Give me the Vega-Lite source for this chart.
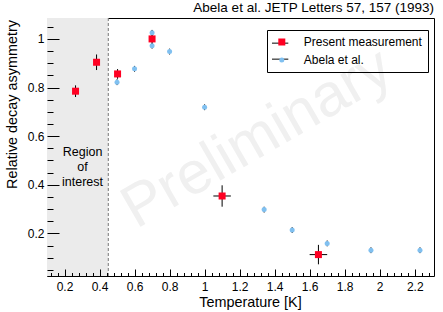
{
  "$schema": "https://vega.github.io/schema/vega-lite/v6.json",
  "width": 387,
  "height": 258,
  "autosize": "none",
  "padding": {"left": 47, "top": 18, "right": 9, "bottom": 36},
  "background": "white",
  "title": {"text": "Abela et al. JETP Letters 57, 157 (1993)", "anchor": "end", "frame": "group", "fontSize": 13.5, "fontWeight": "normal", "font": "Liberation Sans", "color": "black", "offset": 3},
  "config": {"view": {"stroke": "black", "strokeWidth": 1}, "font": "Liberation Sans"},
  "data": {"values": [
    {"series": "Abela et al.", "t": 0.5, "a": 0.822, "alo": 0.810, "ahi": 0.834},
    {"series": "Abela et al.", "t": 0.6, "a": 0.877, "alo": 0.865, "ahi": 0.889},
    {"series": "Abela et al.", "t": 0.7, "a": 1.025, "alo": 1.013, "ahi": 1.037},
    {"series": "Abela et al.", "t": 0.7, "a": 0.972, "alo": 0.960, "ahi": 0.984},
    {"series": "Abela et al.", "t": 0.8, "a": 0.948, "alo": 0.936, "ahi": 0.960},
    {"series": "Abela et al.", "t": 1.0, "a": 0.719, "alo": 0.707, "ahi": 0.731},
    {"series": "Abela et al.", "t": 1.34, "a": 0.298, "alo": 0.286, "ahi": 0.310},
    {"series": "Abela et al.", "t": 1.5, "a": 0.214, "alo": 0.202, "ahi": 0.226},
    {"series": "Abela et al.", "t": 1.7, "a": 0.159, "alo": 0.147, "ahi": 0.171},
    {"series": "Abela et al.", "t": 1.95, "a": 0.131, "alo": 0.119, "ahi": 0.143},
    {"series": "Abela et al.", "t": 2.23, "a": 0.131, "alo": 0.119, "ahi": 0.143},
    {"series": "Present measurement", "t": 0.263, "a": 0.785, "alo": 0.761, "ahi": 0.809},
    {"series": "Present measurement", "t": 0.383, "a": 0.904, "alo": 0.872, "ahi": 0.936},
    {"series": "Present measurement", "t": 0.503, "a": 0.856, "alo": 0.836, "ahi": 0.876},
    {"series": "Present measurement", "t": 0.7, "a": 1.0, "alo": 0.965, "ahi": 1.035},
    {"series": "Present measurement", "t": 1.1, "a": 0.354, "alo": 0.310, "ahi": 0.398, "tlo": 1.05, "thi": 1.15},
    {"series": "Present measurement", "t": 1.65, "a": 0.113, "alo": 0.073, "ahi": 0.153, "tlo": 1.6, "thi": 1.7}
  ]},
  "layer": [
    {
      "data": {"values": [{"lo": 0.1, "hi": 0.45}]},
      "mark": {"type": "rect", "color": "#ebebeb"},
      "encoding": {
        "x": {"field": "lo", "type": "quantitative"},
        "x2": {"field": "hi"}
      }
    },
    {
      "data": {"values": [{"label": "Preliminary"}]},
      "mark": {"type": "text", "color": "#f0f0f0", "fontSize": 60, "angle": -30, "align": "center", "baseline": "middle", "font": "Liberation Sans"},
      "encoding": {
        "x": {"datum": 1.3, "type": "quantitative"},
        "y": {"datum": 0.59, "type": "quantitative"},
        "text": {"field": "label"}
      }
    },
    {
      "data": {"values": [{"edge": 0.45}]},
      "mark": {"type": "rule", "color": "#777777", "strokeDash": [3, 2], "strokeWidth": 1},
      "encoding": {"x": {"field": "edge", "type": "quantitative"}}
    },
    {
      "data": {"values": [{"label": ["Region", "of", "interest"]}]},
      "mark": {"type": "text", "color": "black", "fontSize": 12.5, "align": "center", "baseline": "middle", "lineHeight": 15, "font": "Liberation Sans"},
      "encoding": {
        "x": {"datum": 0.303, "type": "quantitative"},
        "y": {"datum": 0.535, "type": "quantitative"},
        "text": {"field": "label"}
      }
    },
    {
      "mark": {"type": "rule", "color": "black", "strokeWidth": 1},
      "encoding": {
        "x": {"field": "t", "type": "quantitative"},
        "y": {"field": "alo", "type": "quantitative"},
        "y2": {"field": "ahi"}
      }
    },
    {
      "mark": {"type": "rule", "color": "black", "strokeWidth": 1},
      "encoding": {
        "x": {"field": "tlo", "type": "quantitative"},
        "x2": {"field": "thi"},
        "y": {"field": "a", "type": "quantitative"}
      }
    },
    {
      "mark": {"type": "point", "filled": true, "opacity": 1, "strokeWidth": 0},
      "encoding": {
        "x": {"field": "t", "type": "quantitative",
          "scale": {"domain": [0.1, 2.31], "nice": false, "zero": false},
          "axis": {
            "title": "Temperature [K]", "titleFontSize": 14.4, "titleFontWeight": "normal", "titleColor": "black", "titleFont": "Liberation Sans",
            "titleX": 203, "titleY": 30.5, "titleBaseline": "alphabetic", "titleAlign": "center",
            "values": [0.12,0.16,0.2,0.24,0.28,0.32,0.36,0.4,0.44,0.48,0.52,0.56,0.6,0.64,0.68,0.72,0.76,0.8,0.84,0.88,0.92,0.96,1,1.04,1.08,1.12,1.16,1.2,1.24,1.28,1.32,1.36,1.4,1.44,1.48,1.52,1.56,1.6,1.64,1.68,1.72,1.76,1.8,1.84,1.88,1.92,1.96,2,2.04,2.08,2.12,2.16,2.2,2.24,2.28],
            "tickCount": 200,
            "labelExpr": "abs(datum.value*5 - round(datum.value*5)) < 0.001 ? format(datum.value, '~g') : ''",
            "labelOverlap": false, "labelFlush": false, "labelBound": false, "labelFontSize": 12, "labelColor": "black", "labelFont": "Liberation Sans",
            "labelPadding": -2, "tickSize": 7, "domain": false, "grid": false, "tickColor": "black", "zindex": 1,
            "encoding": {"ticks": {"y2": {"condition": {"test": "abs(datum.value*5 - round(datum.value*5)) < 0.001", "value": -7}, "value": -3.5}}}
          }
        },
        "y": {"field": "a", "type": "quantitative",
          "scale": {"domain": [0.025, 1.086], "nice": false, "zero": false},
          "axis": {
            "title": "Relative decay asymmetry", "titleFontSize": 14.4, "titleFontWeight": "normal", "titleColor": "black", "titleFont": "Liberation Sans",
            "titleX": -35, "titleY": 86, "titleAngle": -90, "titleBaseline": "middle", "titleAlign": "center",
            "values": [0.05,0.1,0.15,0.2,0.25,0.3,0.35,0.4,0.45,0.5,0.55,0.6,0.65,0.7,0.75,0.8,0.85,0.9,0.95,1,1.05],
            "tickCount": 200,
            "labelExpr": "abs(datum.value*5 - round(datum.value*5)) < 0.001 ? format(datum.value, '~g') : ''",
            "labelOverlap": false, "labelFlush": false, "labelBound": false, "labelFontSize": 12, "labelColor": "black", "labelFont": "Liberation Sans",
            "labelPadding": -9, "tickSize": 12, "domain": false, "grid": false, "tickColor": "black", "zindex": 1,
            "encoding": {"ticks": {"x2": {"condition": {"test": "abs(datum.value*5 - round(datum.value*5)) < 0.001", "value": 12}, "value": 6}}}
          }
        },
        "fill": {"field": "series", "type": "nominal",
          "scale": {"domain": ["Present measurement", "Abela et al."], "range": ["#ff0022", "#80c0f0"]},
          "legend": {"orient": "none", "legendX": 220, "legendY": 12, "title": null, "padding": 6, "labelOffset": 16, "rowPadding": 6,
            "fillColor": "transparent", "strokeColor": "black", "labelFontSize": 12, "labelFont": "Liberation Sans", "labelColor": "black",
            "symbolOffset": 2.8, "symbolStrokeWidth": 0, "symbolOpacity": 1, "zindex": 2}
        },
        "shape": {"field": "series", "type": "nominal", "scale": {"domain": ["Present measurement", "Abela et al."], "range": ["square", "circle"]}},
        "size": {"field": "series", "type": "nominal", "scale": {"domain": ["Present measurement", "Abela et al."], "range": [49, 25]}}
      }
    },
    {
      "data": {"values": []},
      "mark": {"type": "rule", "color": "black", "strokeWidth": 1},
      "encoding": {
        "x": {"datum": 1, "type": "quantitative"},
        "strokeDash": {"field": "lg", "type": "nominal",
          "scale": {"domain": ["P", "A"], "range": [[1, 0], [1, 0]]},
          "legend": {"orient": "none", "legendX": 220, "legendY": 12, "title": null, "padding": 4.15, "labelExpr": "''", "labelOffset": 0,
            "symbolSize": 266, "symbolType": "stroke", "symbolStrokeColor": "black", "symbolStrokeWidth": 1, "rowPadding": 2, "zindex": 1}
        }
      }
    }
  ]
}
